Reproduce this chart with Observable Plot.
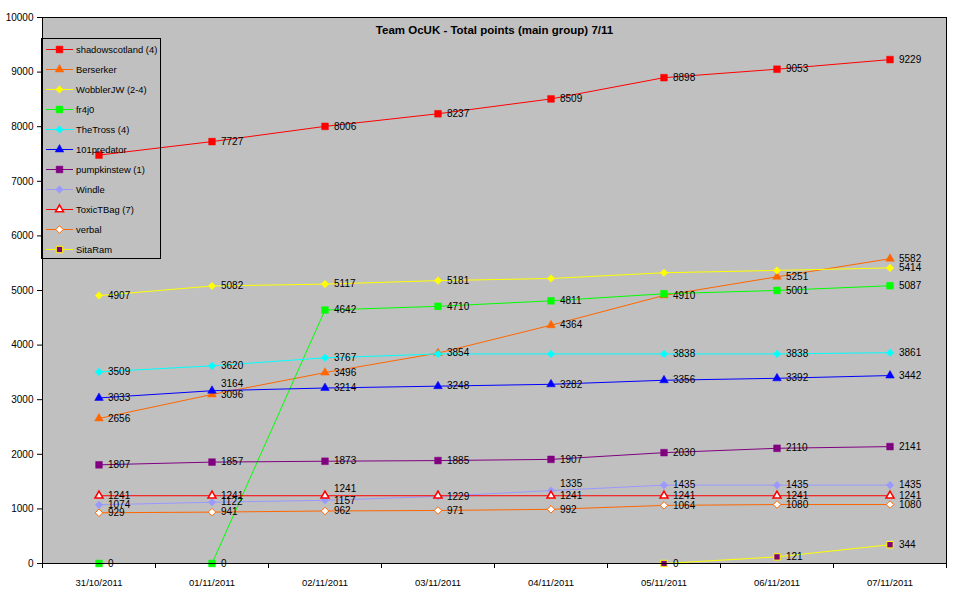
<!DOCTYPE html>
<html><head><meta charset="utf-8">
<script src="https://cdn.jsdelivr.net/npm/d3@7"></script>
<script src="https://cdn.jsdelivr.net/npm/@observablehq/plot@0.6"></script>
<style>
body{margin:0;background:#fff;font-family:"Liberation Sans",Arial,sans-serif}
#wrap{position:relative;width:976px;height:600px}
#legend{position:absolute;left:41px;top:38px;width:120px;height:221px;border:1px solid #000;box-sizing:border-box;font-size:9.4px;color:#000}
#legend .row{height:20px;display:flex;align-items:center}
#legend svg{flex:none;margin-left:4px}
#legend span{margin-left:3px;white-space:nowrap}
</style></head><body><div id="wrap"></div>
<script>
const title = "Team OcUK - Total points (main group) 7/11";
const dates = ["31/10/2011","01/11/2011","02/11/2011","03/11/2011","04/11/2011","05/11/2011","06/11/2011","07/11/2011"];
const names = ["shadowscotland (4)","Berserker","WobblerJW (2-4)","fr4j0","TheTross (4)","101predator","pumpkinstew (1)","Windle","ToxicTBag (7)","verbal","SitaRam"];
const shadowscotland = [7480, 7727, 8006, 8237, 8509, 8898, 9053, 9229];
const berserker      = [2656, 3096, 3496, 3854, 4364, 4910, 5251, 5582];
const wobblerJW      = [4907, 5082, 5117, 5181, 5220, 5325, 5368, 5414];
const fr4j0          = [0, 0, 4642, 4710, 4811, 4940, 5001, 5087];
const theTross       = [3509, 3620, 3767, 3838, 3838, 3838, 3838, 3861];
const predator101    = [3033, 3164, 3214, 3248, 3282, 3356, 3392, 3442];
const pumpkinstew    = [1807, 1857, 1873, 1885, 1907, 2030, 2110, 2141];
const windle         = [1074, 1122, 1157, 1229, 1335, 1435, 1435, 1435];
const toxicTBag      = [1241, 1241, 1241, 1241, 1241, 1241, 1241, 1241];
const verbal         = [929, 941, 962, 971, 992, 1064, 1080, 1080];
const sitaRam        = [null, null, null, null, null, 0, 121, 344];
const allValues = [shadowscotland, berserker, wobblerJW, fr4j0, theTross, predator101, pumpkinstew, windle, toxicTBag, verbal, sitaRam];
// data labels not shown in the original (series index, date index)
const hiddenLabels = [[0,0],[2,4],[2,5],[2,6],[3,5],[4,3],[4,4],[8,3]];
const yTicks = [0,1000,2000,3000,4000,5000,6000,7000,8000,9000,10000];

const styles = [
  {line:"#FF0000", symbol:"square",   fill:"#FF0000", stroke:"#FF0000", r:3.8},
  {line:"#FF6600", symbol:"triangle", fill:"#FF6600", stroke:"#FF6600", r:3.2},
  {line:"#FFFF00", symbol:"diamond2", fill:"#FFFF00", stroke:"#FFFF00", r:3.4},
  {line:"#00FF00", symbol:"square",   fill:"#00FF00", stroke:"#00FF00", r:3.8},
  {line:"#00FFFF", symbol:"diamond2", fill:"#00FFFF", stroke:"#00FFFF", r:3.4},
  {line:"#0000FF", symbol:"triangle", fill:"#0000FF", stroke:"#0000FF", r:3.2},
  {line:"#800080", symbol:"square",   fill:"#800080", stroke:"#800080", r:3.8},
  {line:"#9999FF", symbol:"diamond2", fill:"#9999FF", stroke:"#9999FF", r:3.4},
  {line:"#FF0000", symbol:"triangle", fill:"#FFFFFF", stroke:"#FF0000", r:3.0, sw:1.5},
  {line:"#FF6600", symbol:"diamond2", fill:"#FFFFFF", stroke:"#FF6600", r:3.4, sw:1},
  {line:"#FFFF00", symbol:"square",   fill:"#800080", stroke:"#FFFF00", r:3.6, sw:1}
];

const rows = [];
allValues.forEach((vals, s) => vals.forEach((v, i) => rows.push({s, name: names[s], i, v})));
const hiddenSet = new Set(hiddenLabels.map(([s,i]) => s + "-" + i));
const labelled = rows.filter(d => d.v != null && !hiddenSet.has(d.s + "-" + d.i));
// nudge the upper of two very close labels at the same date upwards
labelled.forEach(d => {
  d.up = labelled.some(o => o !== d && o.i === d.i && o.v < d.v && d.v - o.v < 100);
});

const marks = [Plot.frame({fill:"#C0C0C0"})];
allValues.forEach((vals, s) => {
  const st = styles[s];
  const data = rows.filter(d => d.s === s);
  marks.push(Plot.line(data, {x:"i", y:"v", stroke: st.line, strokeWidth:1, defined: d => d.v != null}));
  marks.push(Plot.dot(data.filter(d => d.v != null), {x:"i", y:"v", symbol: st.symbol, r: st.r, fill: st.fill, stroke: st.stroke, strokeWidth: st.sw || 0.5}));
});
const labelOpts = {x:"i", y:"v", text: d => String(d.v), dx: 9, textAnchor:"start", fontSize:10, fill:"#000"};
marks.push(Plot.text(labelled.filter(d => !d.up), labelOpts));
marks.push(Plot.text(labelled.filter(d => d.up), {...labelOpts, dy: -7}));
marks.push(Plot.text([title], {frameAnchor:"top", dy:8, fontWeight:"bold", fontSize:11.5, fill:"#000", lineAnchor:"top"}));
marks.push(Plot.frame({stroke:"#000", strokeWidth:1}));
marks.push(Plot.axisY({ticks: yTicks, tickFormat: d3.format("d"), tickSize:5, tickPadding:4, fontSize:10, label: null}));
marks.push(Plot.axisX({ticks: d3.range(dates.length), tickFormat: i => dates[i], tickSize:0, tickPadding:16, fontSize:9.5, label: null}));
marks.push(Plot.axisX({ticks: d3.range(dates.length + 1).map(i => i - 0.5), tickFormat: () => "", tickSize:5, label: null}));

const chart = Plot.plot({
  width: 976, height: 600,
  marginLeft: 42, marginRight: 30, marginTop: 17, marginBottom: 37,
  style: {fontFamily: "'Liberation Sans', Arial, sans-serif", background: "#fff", color: "#000"},
  x: {domain: [-0.5, dates.length - 0.5], label: null},
  y: {domain: [0, 10000], label: null},
  marks
});
const wrap = document.getElementById("wrap");
wrap.appendChild(chart);

// legend overlay (transparent, same grey as plot area)
const legend = document.createElement("div");
legend.id = "legend";
const symMap = {square: d3.symbolSquare, triangle: d3.symbolTriangle, diamond2: d3.symbolDiamond2};
names.forEach((n, s) => {
  const st = styles[s];
  const row = document.createElement("div");
  row.className = "row";
  const p = d3.symbol(symMap[st.symbol], Math.PI * st.r * st.r)();
  row.innerHTML = `<svg width="27" height="20"><line x1="0" x2="27" y1="10.5" y2="10.5" stroke="${st.line}" stroke-width="1"/>` +
    `<path d="${p}" transform="translate(13.5,10.5)" fill="${st.fill}" stroke="${st.stroke}" stroke-width="${st.sw || 0.5}"/></svg><span>${n}</span>`;
  legend.appendChild(row);
});
wrap.appendChild(legend);
</script></body></html>
